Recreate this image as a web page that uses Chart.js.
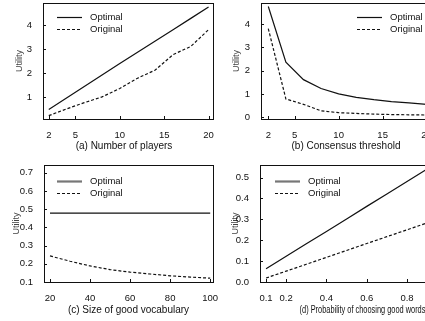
<!DOCTYPE html>
<html>
<head>
<meta charset="utf-8">
<script src="https://cdn.jsdelivr.net/npm/chart.js@4.4.1/dist/chart.umd.min.js"></script>
<style>
  html, body { margin: 0; padding: 0; background: #fff; overflow: hidden; width: 425px; height: 321px; }
  canvas { position: absolute; }
</style>
</head>
<body>
<canvas id="a" width="232" height="160" style="left:0;top:0"></canvas>
<canvas id="b" width="232" height="160" style="left:215px;top:0"></canvas>
<canvas id="c" width="232" height="161" style="left:0;top:160px"></canvas>
<canvas id="d" width="232" height="161" style="left:215px;top:160px"></canvas>
<script>
// (a) number of players
const playersX = [2, 4, 6, 8, 10, 12, 14, 16, 18, 20];
const playersOptimal = [0.50, 0.97, 1.45, 1.93, 2.41, 2.88, 3.35, 3.82, 4.29, 4.76];
const playersOriginal = [0.24, 0.52, 0.78, 1.02, 1.37, 1.80, 2.14, 2.78, 3.12, 3.82];
const playersXTicks = [2, 5, 10, 15, 20];
const playersYTicks = [1, 2, 3, 4];

// (b) consensus threshold
const thresholdX = [2, 4, 6, 8, 10, 12, 14, 16, 18, 20];
const thresholdOptimal = [4.76, 2.37, 1.62, 1.24, 1.01, 0.86, 0.76, 0.68, 0.62, 0.56];
const thresholdOriginal = [3.81, 0.79, 0.56, 0.28, 0.20, 0.17, 0.14, 0.12, 0.11, 0.10];
const thresholdXTicks = [2, 5, 10, 15, 20];
const thresholdYTicks = [0, 1, 2, 3, 4];

// (c) size of good vocabulary
const vocabX = [20, 30, 40, 50, 60, 70, 80, 90, 100];
const vocabOptimal = [0.478, 0.478, 0.478, 0.478, 0.478, 0.478, 0.478, 0.478, 0.478];
const vocabOriginal = [0.243, 0.214, 0.188, 0.168, 0.154, 0.144, 0.134, 0.127, 0.121];
const vocabXTicks = [20, 40, 60, 80, 100];
const vocabYTicks = [0.1, 0.2, 0.3, 0.4, 0.5, 0.6, 0.7];

// (d) probability of choosing good words
const probX = [0.1, 0.2, 0.3, 0.4, 0.5, 0.6, 0.7, 0.8, 0.9];
const probOptimal = [0.063, 0.123, 0.183, 0.242, 0.302, 0.362, 0.421, 0.481, 0.541];
const probOriginal = [0.019, 0.052, 0.085, 0.118, 0.151, 0.184, 0.217, 0.250, 0.283];
const probXTicks = [0.1, 0.2, 0.4, 0.6, 0.8];
const probYTicks = [0, 0.1, 0.2, 0.3, 0.4, 0.5];

const seriesNames = ['Optimal', 'Original'];

Chart.defaults.font.family = '"Liberation Sans", Arial, Helvetica, sans-serif';
Chart.defaults.color = '#111';

// box around the plot, inward ticks, legend inside the plot, caption below
const frame = {
  id: 'frame',
  afterDraw(chart, args, opts) {
    const { ctx, chartArea: a, scales } = chart;
    ctx.save();
    ctx.strokeStyle = '#111';
    ctx.lineWidth = 1;
    ctx.strokeRect(Math.round(a.left) + 0.5, Math.round(a.top) + 0.5,
      Math.round(a.right - a.left), Math.round(a.bottom - a.top));
    ctx.beginPath();
    scales.x.ticks.forEach(t => {
      const px = Math.round(scales.x.getPixelForValue(t.value)) + 0.5;
      ctx.moveTo(px, a.bottom);
      ctx.lineTo(px, a.bottom - 3);
    });
    scales.y.ticks.forEach(t => {
      const py = Math.round(scales.y.getPixelForValue(t.value)) + 0.5;
      ctx.moveTo(a.left, py);
      ctx.lineTo(a.left + 3, py);
    });
    ctx.stroke();

    ctx.font = '9.5px "Liberation Sans", Arial, sans-serif';
    ctx.fillStyle = '#111';
    ctx.textBaseline = 'middle';
    chart.data.datasets.forEach((ds, i) => {
      const y = Math.round(a.top + opts.dy + i * 11.5) + 0.5;
      const x0 = a.left + opts.dx;
      ctx.beginPath();
      if (i === 0 && opts.sampleColor) {
        ctx.strokeStyle = opts.sampleColor;
        ctx.lineWidth = 2.2;
      } else {
        ctx.strokeStyle = ds.borderColor;
        ctx.lineWidth = ds.borderWidth;
      }
      ctx.setLineDash(ds.borderDash || []);
      ctx.moveTo(x0, y);
      ctx.lineTo(x0 + 25, y);
      ctx.stroke();
      ctx.setLineDash([]);
      ctx.fillText(ds.label, x0 + 33, y);
    });

    // caption under the panel
    const cap = opts.caption;
    ctx.font = '10px "Liberation Sans", Arial, sans-serif';
    ctx.textAlign = 'center';
    ctx.translate((a.left + a.right) / 2 + cap.dx, chart.height - cap.bottom);
    ctx.scale(cap.sx || 1, 1);
    ctx.fillText(cap.text, 0, 0);
    ctx.restore();
  }
};

function build(id, cfg) {
  const toPts = (xs, ys) => xs.map((x, i) => ({ x, y: ys[i] }));
  return new Chart(document.getElementById(id), {
    type: 'line',
    plugins: [frame],
    data: {
      datasets: [
        { label: seriesNames[0], data: toPts(cfg.xs, cfg.optimal), borderColor: '#111', borderWidth: 1.2 },
        { label: seriesNames[1], data: toPts(cfg.xs, cfg.original), borderColor: '#111', borderWidth: 1.2, borderDash: [3, 2] },
      ],
    },
    options: {
      responsive: false,
      animation: false,
      layout: { padding: { top: cfg.top, right: cfg.right, left: 0, bottom: 0 } },
      elements: { point: { radius: 0 }, line: { tension: 0 } },
      plugins: {
        legend: { display: false },
        tooltip: { enabled: false },
        frame: { ...cfg.legend, caption: cfg.caption },
      },
      scales: {
        x: {
          type: 'linear',
          min: cfg.xRange[0],
          max: cfg.xRange[1],
          grid: { display: false },
          border: { display: false },
          afterBuildTicks: s => { s.ticks = cfg.xTicks.map(v => ({ value: v })); },
          afterFit: s => { s.height = cfg.xh; s.paddingLeft = 0; s.paddingRight = 0; },
          ticks: { autoSkip: false, maxRotation: 0, padding: 3, font: { size: 9.5 }, callback: cfg.xFmt },
        },
        y: {
          min: cfg.yRange[0],
          max: cfg.yRange[1],
          grid: { display: false },
          border: { display: false },
          afterBuildTicks: s => { s.ticks = cfg.yTicks.map(v => ({ value: v })); },
          afterFit: s => { s.width = cfg.yw; s.paddingTop = 0; s.paddingBottom = 0; },
          ticks: { padding: 3, font: { size: 9.5 }, callback: cfg.yFmt },
          title: { display: true, text: 'Utility', color: '#444', font: { size: 9 }, padding: { top: cfg.yTitlePad, bottom: 0 } },
        },
      },
    },
  });
}

const plain = v => String(v);
const oneDec = v => Number(v).toFixed(1);

build('a', {
  xs: playersX, optimal: playersOptimal, original: playersOriginal,
  xRange: [1.35, 20.5], yRange: [0.1, 4.93], xTicks: playersXTicks, yTicks: playersYTicks,
  xFmt: plain, yFmt: plain,
  caption: { text: '(a) Number of players', dx: -4, bottom: 13.5 },
  top: 3, right: 19, xh: 41, yw: 43, yTitlePad: 14.5,
  legend: { dx: 14, dy: 14 },
});
build('b', {
  xs: thresholdX, optimal: thresholdOptimal, original: thresholdOriginal,
  xRange: [1.17, 20.5], yRange: [-0.07, 4.91], xTicks: thresholdXTicks, yTicks: thresholdYTicks,
  xFmt: plain, yFmt: plain,
  caption: { text: '(b) Consensus threshold', dx: 0, bottom: 13.5 },
  top: 3, right: 16, xh: 41, yw: 46, yTitlePad: 16.5,
  legend: { dx: 96, dy: 14 },
});
build('c', {
  xs: vocabX, optimal: vocabOptimal, original: vocabOriginal,
  xRange: [17, 101.4], yRange: [0.1, 0.742], xTicks: vocabXTicks, yTicks: vocabYTicks,
  xFmt: plain, yFmt: oneDec,
  caption: { text: '(c) Size of good vocabulary', dx: 0, bottom: 11 },
  top: 5, right: 19, xh: 39, yw: 44, yTitlePad: 11.5,
  legend: { dx: 13, dy: 16, sampleColor: '#777' },
});
build('d', {
  xs: probX, optimal: probOptimal, original: probOriginal,
  xRange: [0.07, 0.919], yRange: [0, 0.56], xTicks: probXTicks, yTicks: probYTicks,
  xFmt: oneDec, yFmt: oneDec,
  caption: { text: '(d) Probability of choosing good words', dx: 17, bottom: 11, sx: 0.74 },
  top: 5, right: 16, xh: 39, yw: 45, yTitlePad: 15.5,
  legend: { dx: 15, dy: 16, sampleColor: '#777' },
});
</script>
</body>
</html>
